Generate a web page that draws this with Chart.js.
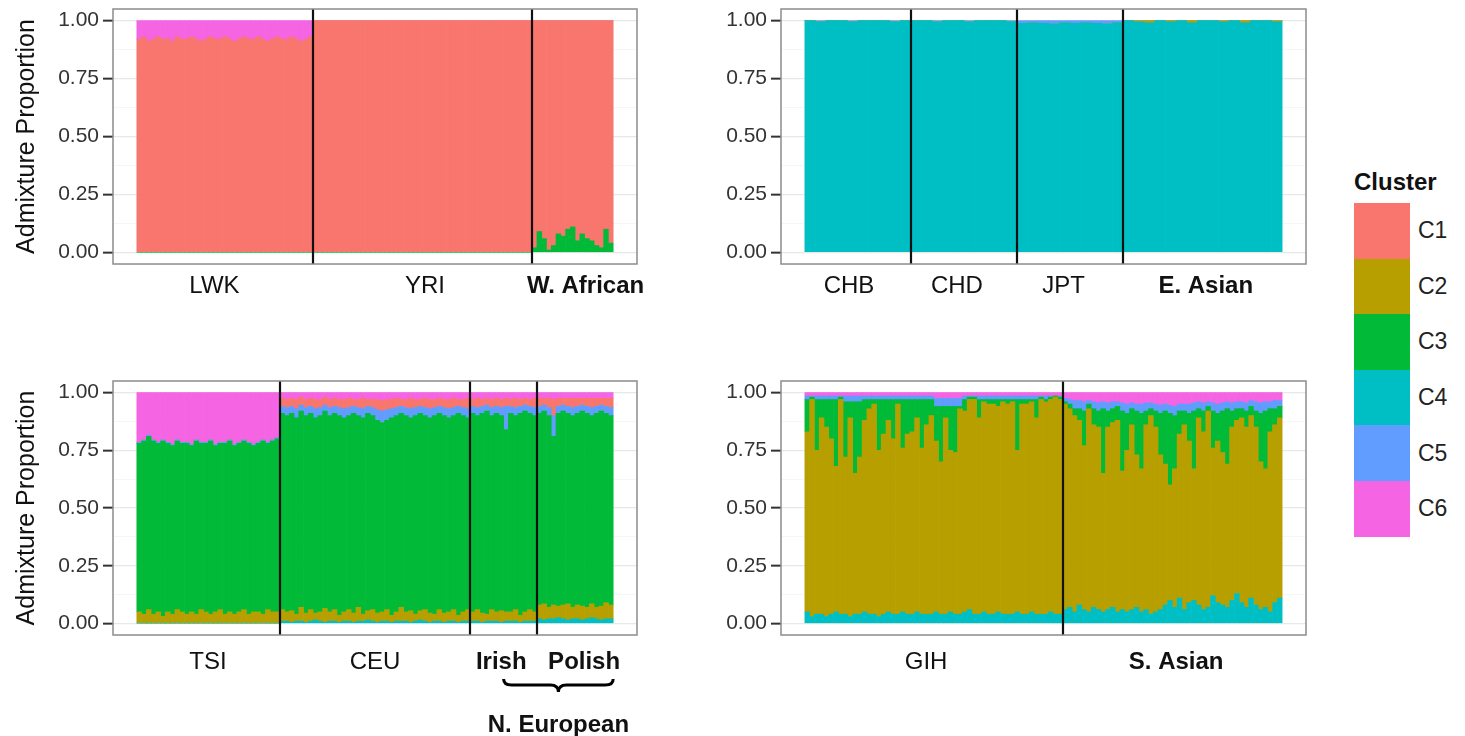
<!DOCTYPE html>
<html>
<head>
<meta charset="utf-8">
<script src="https://cdn.jsdelivr.net/npm/chart.js@4.4.1/dist/chart.umd.min.js"></script>
<style>
  html, body { margin: 0; padding: 0; background: #fff; }
  body { width: 1465px; height: 736px; position: relative; overflow: hidden; font-family: "Liberation Sans", Arial, sans-serif; }
  canvas { position: absolute; }
  #legend { position: absolute; left: 1354px; top: 166px; }
  #legend .ltitle { height: 37px; font-size: 24px; font-weight: bold; color: #111; line-height: 32px; }
  #legend .lrow { height: 55.6px; display: flex; align-items: center; }
  #legend .sw { width: 56px; height: 55.6px; display: inline-block; }
  #legend .lab { font-size: 23px; color: #222; margin-left: 8px; }
</style>
</head>
<body>
<canvas id="afr" width="660" height="310" style="left:0;top:0"></canvas>
<canvas id="eas" width="620" height="310" style="left:700px;top:0"></canvas>
<canvas id="eur" width="660" height="366" style="left:0;top:370px"></canvas>
<canvas id="sas" width="620" height="310" style="left:700px;top:370px"></canvas>
<div id="legend"></div>

<script>
const FONT = '"Liberation Sans", Arial, sans-serif';

const clusterNames = ['C1', 'C2', 'C3', 'C4', 'C5', 'C6'];
const clusterColors = ['#F8766D', '#B79F00', '#00BA38', '#00BFC4', '#619CFF', '#F564E3'];
// order the clusters are stacked in, bottom first
const stackOrder = ['C4', 'C2', 'C3', 'C5', 'C1', 'C6'];

const yTicks = [0, 0.25, 0.5, 0.75, 1];
const yMinorTicks = [0.125, 0.375, 0.625, 0.875];

// ---- top left: African panel ----
const afrGroups = ['LWK', 'YRI', 'W. African'];
const afrSizes = [37, 46, 17];
const afrLabelAt = [15.8, 60.0, 93.7];
const afrBold = [false, false, true];
const afrC1 = [
  0.92, 0.93, 0.91, 0.92, 0.93, 0.92, 0.92, 0.91, 0.93, 0.92,
  0.92, 0.93, 0.92, 0.91, 0.92, 0.93, 0.92, 0.92, 0.93, 0.92,
  0.91, 0.92, 0.93, 0.92, 0.92, 0.93, 0.92, 0.91, 0.92, 0.93,
  0.92, 0.92, 0.93, 0.92, 0.91, 0.92, 0.93,
  1, 1, 1, 1, 1, 1, 1, 1, 1, 1,
  1, 1, 1, 1, 1, 1, 1, 1, 1, 1,
  1, 1, 1, 1, 1, 1, 1, 1, 1, 1,
  1, 1, 1, 1, 1, 1, 1, 1, 1, 1,
  1, 1, 1, 1, 1, 1,
  0.98, 0.91, 0.94, 0.99, 0.97, 0.92, 0.93, 0.90, 0.89, 0.95,
  0.92, 0.94, 0.95, 0.97, 0.98, 0.90, 0.96
];
const afrC3 = [
  0, 0, 0, 0, 0, 0, 0, 0, 0, 0,
  0, 0, 0, 0, 0, 0, 0, 0, 0, 0,
  0, 0, 0, 0, 0, 0, 0, 0, 0, 0,
  0, 0, 0, 0, 0, 0, 0,
  0, 0, 0, 0, 0, 0, 0, 0, 0, 0,
  0, 0, 0, 0, 0, 0, 0, 0, 0, 0,
  0, 0, 0, 0, 0, 0, 0, 0, 0, 0,
  0, 0, 0, 0, 0, 0, 0, 0, 0, 0,
  0, 0, 0, 0, 0, 0,
  0.02, 0.09, 0.06, 0.01, 0.03, 0.08, 0.07, 0.10, 0.11, 0.05,
  0.08, 0.06, 0.05, 0.03, 0.02, 0.10, 0.04
];
const afrC6 = [
  0.08, 0.07, 0.09, 0.08, 0.07, 0.08, 0.08, 0.09, 0.07, 0.08,
  0.08, 0.07, 0.08, 0.09, 0.08, 0.07, 0.08, 0.08, 0.07, 0.08,
  0.09, 0.08, 0.07, 0.08, 0.08, 0.07, 0.08, 0.09, 0.08, 0.07,
  0.08, 0.08, 0.07, 0.08, 0.09, 0.08, 0.07,
  0, 0, 0, 0, 0, 0, 0, 0, 0, 0,
  0, 0, 0, 0, 0, 0, 0, 0, 0, 0,
  0, 0, 0, 0, 0, 0, 0, 0, 0, 0,
  0, 0, 0, 0, 0, 0, 0, 0, 0, 0,
  0, 0, 0, 0, 0, 0,
  0, 0, 0, 0, 0, 0, 0, 0, 0, 0,
  0, 0, 0, 0, 0, 0, 0
];

// ---- top right: East Asian panel ----
const easGroups = ['CHB', 'CHD', 'JPT', 'E. Asian'];
const easSizes = [10, 10, 10, 15];
const easLabelAt = [3.66, 13.84, 23.9, 37.3];
const easBold = [false, false, false, true];
const easC4 = [
  1, 0.995, 1, 1, 0.995, 1, 1, 1, 0.995, 1,
  1, 1, 0.995, 1, 1, 0.995, 1, 1, 1, 0.995,
  0.988, 0.99, 0.988, 0.985, 0.99, 0.988, 0.99, 0.988, 0.985, 0.99,
  1, 0.995, 0.99, 1, 0.995, 1, 0.99, 1, 1, 0.995, 1, 0.99, 1, 1, 0.995
];
const easC2 = [
  0, 0, 0, 0, 0, 0, 0, 0, 0, 0,
  0, 0, 0, 0, 0, 0, 0, 0, 0, 0,
  0, 0, 0, 0, 0, 0, 0, 0, 0, 0,
  0, 0.005, 0.01, 0, 0.005, 0, 0.01, 0, 0, 0.005, 0, 0.01, 0, 0, 0.005
];
const easC5 = [
  0, 0.005, 0, 0, 0.005, 0, 0, 0, 0.005, 0,
  0, 0, 0.005, 0, 0, 0.005, 0, 0, 0, 0.005,
  0.012, 0.01, 0.012, 0.015, 0.01, 0.012, 0.01, 0.012, 0.015, 0.01,
  0, 0, 0, 0, 0, 0, 0, 0, 0, 0, 0, 0, 0, 0, 0
];

// ---- bottom left: European panel ----
const eurGroups = ['TSI', 'CEU', 'Irish', 'Polish'];
const eurSizes = [30, 40, 14, 16];
const eurLabelAt = [14.45, 49.5, 76.0, 93.4];
const eurBold = [false, false, true, true];
const eurBrace = { first: 2, last: 3, label: 'N. European' };
const eurC4 = [
  0, 0, 0, 0, 0, 0, 0, 0, 0, 0,
  0, 0, 0, 0, 0, 0, 0, 0, 0, 0,
  0, 0, 0, 0, 0, 0, 0, 0, 0, 0,
  0.01, 0.01, 0.005, 0.01, 0.01, 0.005, 0.01, 0.015, 0.01, 0.005,
  0.01, 0.01, 0.005, 0.01, 0.01, 0.005, 0.01, 0.01, 0.015, 0.01,
  0.005, 0.01, 0.01, 0.005, 0.01, 0.01, 0.01, 0.005, 0.01, 0.015,
  0.01, 0.005, 0.01, 0.01, 0.005, 0.01, 0.01, 0.005, 0.01, 0.01,
  0.01, 0.01, 0.005, 0.01, 0.01, 0.01, 0.005, 0.01, 0.01, 0.01, 0.005, 0.01, 0.01, 0.01,
  0.02, 0.015, 0.02, 0.02, 0.025, 0.02, 0.015, 0.02, 0.02, 0.015, 0.02, 0.025, 0.02, 0.015, 0.02, 0.02
];
const eurC2 = [
  0.05, 0.04, 0.06, 0.04, 0.05, 0.03, 0.05, 0.04, 0.06, 0.05,
  0.04, 0.05, 0.04, 0.06, 0.05, 0.04, 0.05, 0.06, 0.04, 0.05,
  0.04, 0.05, 0.06, 0.04, 0.05, 0.05, 0.04, 0.06, 0.05, 0.05,
  0.05, 0.04, 0.05, 0.03, 0.06, 0.04, 0.05, 0.03, 0.04, 0.06,
  0.04, 0.05, 0.03, 0.04, 0.05, 0.04, 0.06, 0.03, 0.04, 0.05,
  0.04, 0.04, 0.05, 0.03, 0.04, 0.06, 0.04, 0.05, 0.03, 0.04,
  0.05, 0.04, 0.03, 0.05, 0.04, 0.04, 0.05, 0.03, 0.04, 0.05,
  0.04, 0.05, 0.04, 0.03, 0.05, 0.04, 0.05, 0.04, 0.04, 0.05, 0.03, 0.04, 0.05, 0.04,
  0.06, 0.07, 0.05, 0.06, 0.05, 0.06, 0.07, 0.05, 0.06, 0.06, 0.05, 0.06, 0.05, 0.06, 0.07, 0.06
];
const eurC3 = [
  0.73, 0.75, 0.75, 0.75, 0.73, 0.76, 0.73, 0.73, 0.73, 0.73,
  0.74, 0.72, 0.75, 0.72, 0.73, 0.75, 0.72, 0.72, 0.74, 0.74,
  0.73, 0.73, 0.73, 0.74, 0.72, 0.73, 0.75, 0.72, 0.74, 0.75,
  0.85, 0.85, 0.855, 0.85, 0.85, 0.855, 0.85, 0.845, 0.85, 0.855,
  0.85, 0.85, 0.865, 0.84, 0.84, 0.865, 0.83, 0.85, 0.855, 0.84,
  0.835, 0.82, 0.82, 0.855, 0.85, 0.84, 0.85, 0.835, 0.86, 0.855,
  0.84, 0.845, 0.86, 0.85, 0.855, 0.84, 0.84, 0.875, 0.85, 0.83,
  0.86, 0.84, 0.865, 0.88, 0.84, 0.86, 0.845, 0.79, 0.86, 0.84, 0.875, 0.87, 0.85, 0.85,
  0.83, 0.835, 0.83, 0.73, 0.835, 0.84, 0.825, 0.83, 0.83, 0.845, 0.84, 0.815, 0.84, 0.845, 0.82, 0.82
];
const eurC5 = [
  0.005, 0.005, 0.005, 0.005, 0.005, 0.005, 0.005, 0.005, 0.005, 0.005,
  0.005, 0.005, 0.005, 0.005, 0.005, 0.005, 0.005, 0.005, 0.005, 0.005,
  0.005, 0.005, 0.005, 0.005, 0.005, 0.005, 0.005, 0.005, 0.005, 0.005,
  0.03, 0.035, 0.03, 0.04, 0.025, 0.035, 0.03, 0.04, 0.035, 0.025,
  0.035, 0.03, 0.035, 0.04, 0.035, 0.03, 0.035, 0.04, 0.03, 0.035,
  0.045, 0.05, 0.045, 0.04, 0.035, 0.03, 0.035, 0.04, 0.035, 0.03,
  0.035, 0.04, 0.035, 0.03, 0.035, 0.04, 0.035, 0.03, 0.035, 0.04,
  0.03, 0.035, 0.03, 0.025, 0.035, 0.03, 0.035, 0.10, 0.03, 0.035, 0.03, 0.025, 0.03, 0.035,
  0.03, 0.025, 0.035, 0.09, 0.03, 0.025, 0.03, 0.035, 0.03, 0.025, 0.03, 0.035, 0.03, 0.025, 0.03, 0.035
];
const eurC1 = [
  0, 0, 0, 0, 0, 0, 0, 0, 0, 0,
  0, 0, 0, 0, 0, 0, 0, 0, 0, 0,
  0, 0, 0, 0, 0, 0, 0, 0, 0, 0,
  0.035, 0.035, 0.035, 0.04, 0.035, 0.035, 0.035, 0.04, 0.035, 0.035,
  0.035, 0.035, 0.035, 0.04, 0.04, 0.03, 0.035, 0.045, 0.03, 0.035,
  0.045, 0.045, 0.045, 0.04, 0.04, 0.03, 0.035, 0.045, 0.035, 0.03,
  0.04, 0.04, 0.035, 0.035, 0.035, 0.04, 0.04, 0.03, 0.035, 0.045,
  0.03, 0.04, 0.03, 0.03, 0.035, 0.035, 0.035, 0.035, 0.03, 0.04, 0.03, 0.03, 0.03, 0.04,
  0.035, 0.03, 0.04, 0.07, 0.035, 0.03, 0.035, 0.04, 0.035, 0.03, 0.035, 0.04, 0.035, 0.03, 0.035, 0.04
];
const eurC6 = [
  0.215, 0.205, 0.185, 0.205, 0.215, 0.205, 0.215, 0.225, 0.205, 0.215,
  0.215, 0.225, 0.205, 0.215, 0.215, 0.205, 0.225, 0.215, 0.215, 0.205,
  0.225, 0.215, 0.205, 0.215, 0.225, 0.215, 0.205, 0.215, 0.205, 0.195,
  0.025, 0.03, 0.025, 0.03, 0.02, 0.03, 0.025, 0.03, 0.03, 0.02,
  0.03, 0.025, 0.03, 0.03, 0.025, 0.03, 0.03, 0.025, 0.03, 0.03,
  0.03, 0.035, 0.03, 0.03, 0.025, 0.03, 0.03, 0.025, 0.03, 0.03,
  0.025, 0.03, 0.03, 0.025, 0.03, 0.03, 0.025, 0.03, 0.03, 0.025,
  0.03, 0.025, 0.03, 0.025, 0.03, 0.025, 0.03, 0.025, 0.03, 0.025, 0.03, 0.025, 0.03, 0.025,
  0.025, 0.025, 0.025, 0.03, 0.025, 0.025, 0.025, 0.025, 0.025, 0.025, 0.025, 0.025, 0.025, 0.025, 0.025, 0.025
];

// ---- bottom right: South Asian panel ----
const sasGroups = ['GIH', 'S. Asian'];
const sasSizes = [54, 46];
const sasLabelAt = [24.9, 77.3];
const sasBold = [false, true];
const sasC4 = [
  0.05, 0.03, 0.04, 0.04, 0.03, 0.04, 0.05, 0.04, 0.04, 0.03,
  0.04, 0.04, 0.05, 0.04, 0.04, 0.03, 0.04, 0.05, 0.04, 0.04,
  0.05, 0.04, 0.04, 0.05, 0.04, 0.04, 0.04, 0.05, 0.04, 0.04,
  0.05, 0.04, 0.04, 0.05, 0.06, 0.04, 0.04, 0.05, 0.04, 0.04,
  0.05, 0.04, 0.04, 0.04, 0.05, 0.04, 0.04, 0.05, 0.04, 0.04,
  0.04, 0.05, 0.04, 0.04,
  0.06, 0.07, 0.05, 0.08, 0.06, 0.05, 0.07, 0.06, 0.05, 0.06,
  0.07, 0.05, 0.06, 0.05, 0.06, 0.07, 0.05, 0.06, 0.04, 0.05,
  0.06, 0.08, 0.10, 0.07, 0.11, 0.06, 0.09, 0.10, 0.08, 0.06,
  0.07, 0.12, 0.09, 0.08, 0.07, 0.10, 0.13, 0.09, 0.07, 0.11,
  0.08, 0.06, 0.07, 0.05, 0.09, 0.11
];
const sasC2 = [
  0.78, 0.94, 0.71, 0.85, 0.82, 0.76, 0.63, 0.93, 0.68, 0.86,
  0.61, 0.68, 0.83, 0.89, 0.91, 0.72, 0.78, 0.83, 0.76, 0.91,
  0.71, 0.78, 0.79, 0.84, 0.72, 0.82, 0.86, 0.74, 0.66, 0.85,
  0.70, 0.70, 0.89, 0.87, 0.91, 0.93, 0.85, 0.91, 0.91, 0.91,
  0.89, 0.92, 0.91, 0.92, 0.70, 0.91, 0.91, 0.91, 0.85, 0.93,
  0.92, 0.92, 0.94, 0.93,
  0.89, 0.86, 0.85, 0.80, 0.71, 0.88, 0.79, 0.79, 0.60, 0.79,
  0.80, 0.83, 0.60, 0.70, 0.80, 0.66, 0.62, 0.80, 0.86, 0.80,
  0.67, 0.61, 0.50, 0.60, 0.71, 0.80, 0.70, 0.57, 0.81, 0.77,
  0.85, 0.64, 0.70, 0.66, 0.62, 0.75, 0.75, 0.80, 0.78, 0.79,
  0.77, 0.64, 0.60, 0.78, 0.77, 0.78
];
const sasC3 = [
  0.14, 0.01, 0.22, 0.08, 0.12, 0.17, 0.29, 0.01, 0.24, 0.07,
  0.31, 0.24, 0.09, 0.04, 0.02, 0.22, 0.15, 0.09, 0.17, 0.02,
  0.21, 0.15, 0.14, 0.08, 0.21, 0.11, 0.07, 0.15, 0.24, 0.05,
  0.19, 0.20, 0.01, 0.05, 0.01, 0.01, 0.08, 0.01, 0.02, 0.02,
  0.03, 0.01, 0.02, 0.01, 0.22, 0.02, 0.02, 0.01, 0.08, 0.01,
  0.01, 0.01, 0.005, 0.01,
  0.01, 0.02, 0.03, 0.05, 0.15, 0.02, 0.07, 0.07, 0.28, 0.07,
  0.06, 0.06, 0.26, 0.16, 0.07, 0.19, 0.24, 0.06, 0.03, 0.07,
  0.18, 0.23, 0.31, 0.23, 0.10, 0.06, 0.12, 0.25, 0.04, 0.09,
  0.02, 0.16, 0.12, 0.18, 0.24, 0.07, 0.05, 0.04, 0.07, 0.04,
  0.07, 0.21, 0.25, 0.10, 0.07, 0.05
];
const sasC5 = [
  0.015, 0.005, 0.015, 0.015, 0.015, 0.015, 0.015, 0.005, 0.025, 0.025,
  0.025, 0.025, 0.015, 0.015, 0.015, 0.015, 0.015, 0.015, 0.015, 0.015,
  0.015, 0.015, 0.015, 0.015, 0.015, 0.015, 0.015, 0.035, 0.035, 0.035,
  0.035, 0.035, 0.035, 0.015, 0.005, 0.005, 0.015, 0.015, 0.015, 0.015,
  0.015, 0.015, 0.015, 0.015, 0.015, 0.015, 0.015, 0.015, 0.015, 0.005,
  0.015, 0.005, 0.0, 0.005,
  0.015, 0.02, 0.035, 0.035, 0.04, 0.015, 0.03, 0.035, 0.03, 0.035,
  0.03, 0.02, 0.035, 0.04, 0.025, 0.03, 0.04, 0.035, 0.025, 0.03,
  0.035, 0.03, 0.035, 0.04, 0.03, 0.03, 0.04, 0.035, 0.03, 0.035,
  0.02, 0.035, 0.04, 0.035, 0.03, 0.035, 0.03, 0.03, 0.035, 0.025,
  0.04, 0.045, 0.04, 0.03, 0.035, 0.025
];
const sasC6 = [
  0.015, 0.015, 0.015, 0.015, 0.015, 0.015, 0.015, 0.015, 0.015, 0.015,
  0.015, 0.015, 0.015, 0.015, 0.015, 0.015, 0.015, 0.015, 0.015, 0.015,
  0.015, 0.015, 0.015, 0.015, 0.015, 0.015, 0.015, 0.025, 0.025, 0.025,
  0.025, 0.025, 0.025, 0.015, 0.015, 0.015, 0.015, 0.015, 0.015, 0.015,
  0.015, 0.015, 0.015, 0.015, 0.015, 0.015, 0.015, 0.015, 0.015, 0.015,
  0.015, 0.015, 0.015, 0.015,
  0.025, 0.03, 0.035, 0.035, 0.04, 0.035, 0.04, 0.045, 0.04, 0.045,
  0.04, 0.04, 0.045, 0.05, 0.045, 0.05, 0.05, 0.045, 0.045, 0.05,
  0.055, 0.05, 0.055, 0.06, 0.05, 0.05, 0.05, 0.045, 0.04, 0.045,
  0.04, 0.045, 0.05, 0.045, 0.04, 0.045, 0.04, 0.04, 0.045, 0.035,
  0.04, 0.045, 0.04, 0.04, 0.035, 0.035
];

// draws group separators, the panel border and (optionally) the brace
const panelDecor = {
  id: 'panelDecor',
  afterDatasetsDraw(chart, args, opts) {
    const ctx = chart.ctx;
    const a = chart.chartArea;
    const x = chart.scales.x;
    ctx.save();
    ctx.strokeStyle = '#111';
    ctx.lineWidth = 2.2;
    opts.bounds.forEach(function (b) {
      const px = Math.round(x.getPixelForValue(b - 0.5));
      ctx.beginPath();
      ctx.moveTo(px, a.top);
      ctx.lineTo(px, a.bottom);
      ctx.stroke();
    });
    ctx.strokeStyle = '#8c8c8c';
    ctx.lineWidth = 1.5;
    ctx.strokeRect(a.left, a.top, a.right - a.left, a.bottom - a.top);

    if (opts.brace) {
      const x0 = x.getPixelForValue(opts.brace.from);
      const x1 = x.getPixelForValue(opts.brace.to);
      const cx = (x0 + x1) / 2;
      const yTip = a.bottom + 44, yMid = a.bottom + 50, yBot = a.bottom + 57;
      const r = 8;
      ctx.strokeStyle = '#000';
      ctx.lineWidth = 3;
      ctx.beginPath();
      ctx.moveTo(x0, yTip);
      ctx.quadraticCurveTo(x0, yMid, x0 + r, yMid);
      ctx.lineTo(cx - r, yMid);
      ctx.quadraticCurveTo(cx, yMid, cx, yBot);
      ctx.quadraticCurveTo(cx, yMid, cx + r, yMid);
      ctx.lineTo(x1 - r, yMid);
      ctx.quadraticCurveTo(x1, yMid, x1, yTip);
      ctx.stroke();
      ctx.fillStyle = '#111';
      ctx.font = 'bold 24px ' + FONT;
      ctx.textAlign = 'center';
      ctx.textBaseline = 'middle';
      ctx.fillText(opts.brace.label, cx, a.bottom + 90);
    }
    ctx.restore();
  }
};

function makePanel(id, p) {
  const n = p.sizes.reduce((s, v) => s + v, 0);
  const bounds = [];
  let acc = 0;
  p.sizes.slice(0, -1).forEach(s => { acc += s; bounds.push(acc); });

  let brace = null;
  if (p.brace) {
    let start = 0;
    for (let g = 0; g < p.brace.first; g++) start += p.sizes[g];
    brace = {
      from: start + (p.sizes[p.brace.first] - 1) / 2,
      to: n - 0.5,
      label: p.brace.label
    };
  }

  const datasets = stackOrder.filter(c => p.series[c]).map(c => ({
    label: c,
    data: p.series[c].map((v, i) => ({ x: i, y: v })),
    backgroundColor: clusterColors[clusterNames.indexOf(c)],
    borderWidth: 0,
    barPercentage: 1,
    categoryPercentage: 1
  }));

  const allY = yTicks.concat(yMinorTicks).sort((a, b) => a - b);
  const isMajor = v => yTicks.includes(v);

  return new Chart(document.getElementById(id), {
    type: 'bar',
    data: { datasets: datasets },
    options: {
      responsive: false,
      animation: false,
      events: [],
      layout: { padding: { top: p.padTop, right: p.padRight, left: 0, bottom: 0 } },
      plugins: {
        legend: { display: false },
        tooltip: { enabled: false },
        panelDecor: { bounds: bounds, brace: brace }
      },
      scales: {
        x: {
          type: 'linear',
          stacked: true,
          offset: false,
          bounds: 'data',
          min: -0.5 - 0.05 * n,
          max: n - 0.5 + 0.05 * n,
          grid: { display: false, drawTicks: false, offset: false },
          border: { display: false },
          afterBuildTicks: s => { s.ticks = p.labelAt.map(v => ({ value: v })); },
          afterFit: s => { s.height = p.xHeight; s.paddingLeft = 0; s.paddingRight = 0; },
          ticks: {
            autoSkip: false,
            maxRotation: 0,
            padding: p.labelPad,
            color: '#111',
            callback: (v, i) => p.groups[i],
            font: c => ({ family: FONT, size: 24, weight: p.bold[c.index] ? 'bold' : 'normal' })
          }
        },
        y: {
          stacked: true,
          min: -0.05,
          max: 1.05,
          afterBuildTicks: s => { s.ticks = allY.map(v => ({ value: v })); },
          afterFit: s => { s.width = p.yWidth; s.paddingTop = 0; s.paddingBottom = 0; },
          border: { display: false },
          grid: {
            color: c => (c.tick && isMajor(c.tick.value)) ? '#e8e8e8' : '#f4f4f4',
            lineWidth: c => (c.tick && isMajor(c.tick.value)) ? 1.3 : 0.8,
            tickColor: c => (c.tick && isMajor(c.tick.value)) ? '#333' : 'rgba(0,0,0,0)',
            tickLength: 10,
            tickWidth: 2
          },
          ticks: {
            padding: 4,
            color: '#333',
            font: { family: FONT, size: 21 },
            callback: v => isMajor(v) ? v.toFixed(2) : ''
          },
          title: {
            display: p.yTitle,
            text: 'Admixture Proportion',
            color: '#111',
            font: { family: FONT, size: 25 },
            padding: { top: 12, bottom: 0 }
          }
        }
      }
    },
    plugins: [panelDecor]
  });
}

makePanel('afr', {
  groups: afrGroups, sizes: afrSizes, labelAt: afrLabelAt, bold: afrBold,
  series: { C1: afrC1, C3: afrC3, C6: afrC6 },
  padTop: 9, padRight: 23, xHeight: 46, yWidth: 113, yTitle: true, labelPad: 8
});
makePanel('eas', {
  groups: easGroups, sizes: easSizes, labelAt: easLabelAt, bold: easBold,
  series: { C4: easC4, C2: easC2, C5: easC5 },
  padTop: 9, padRight: 14, xHeight: 46, yWidth: 81, yTitle: false, labelPad: 8
});
makePanel('eur', {
  groups: eurGroups, sizes: eurSizes, labelAt: eurLabelAt, bold: eurBold, brace: eurBrace,
  series: { C4: eurC4, C2: eurC2, C3: eurC3, C5: eurC5, C1: eurC1, C6: eurC6 },
  padTop: 11, padRight: 23, xHeight: 101, yWidth: 113, yTitle: true, labelPad: 13
});
makePanel('sas', {
  groups: sasGroups, sizes: sasSizes, labelAt: sasLabelAt, bold: sasBold,
  series: { C4: sasC4, C2: sasC2, C3: sasC3, C5: sasC5, C6: sasC6 },
  padTop: 11, padRight: 14, xHeight: 45, yWidth: 81, yTitle: false, labelPad: 13
});

// legend
const legend = document.getElementById('legend');
const lt = document.createElement('div');
lt.className = 'ltitle';
lt.textContent = 'Cluster';
legend.appendChild(lt);
clusterNames.forEach(function (name, i) {
  const row = document.createElement('div');
  row.className = 'lrow';
  const sw = document.createElement('span');
  sw.className = 'sw';
  sw.style.background = clusterColors[i];
  const lab = document.createElement('span');
  lab.className = 'lab';
  lab.textContent = name;
  row.appendChild(sw);
  row.appendChild(lab);
  legend.appendChild(row);
});
</script>
</body>
</html>
